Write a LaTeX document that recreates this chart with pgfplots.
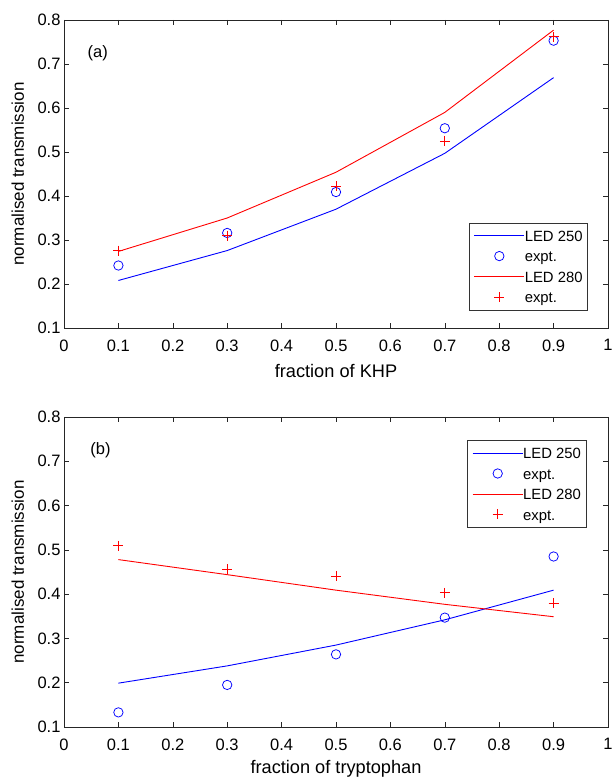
\documentclass[border=0pt]{standalone}
\usepackage{pgfplots}
\pgfplotsset{compat=1.18}
\usepackage{fontspec}
\setmainfont{Liberation Sans}
\definecolor{mblue}{RGB}{0,0,255}
\definecolor{mred}{RGB}{255,0,0}

\pgfplotsset{
 myaxis/.style={
  width=544pt, scale only axis,
  xmin=0, xmax=1, ymin=0.1, ymax=0.8,
  xtick={0,0.1,0.2,0.3,0.4,0.5,0.6,0.7,0.8,0.9,1},
  xticklabels={0,0.1,0.2,0.3,0.4,0.5,0.6,0.7,0.8,0.9,1},
  ytick={0.1,0.2,0.3,0.4,0.5,0.6,0.7,0.8},
  yticklabels={0.1,0.2,0.3,0.4,0.5,0.6,0.7,0.8},
  tick align=inside, major tick length=5pt,
  axis line style={black!85, line width=0.6pt},
  every tick/.style={black!85, line width=0.6pt},
  tick label style={font=\fontsize{16.5}{18}\selectfont},
  xlabel style={font=\fontsize{18.2}{20}\selectfont},
  ylabel style={font=\fontsize{17}{19}\selectfont, at={(axis description cs:-0.085,0.5)}, anchor=center},
  xticklabel style={yshift=-8pt},
  ylabel={normalised transmission},
  legend cell align=left,
  legend style={draw=black!80, line width=0.6pt, inner xsep=5pt, inner ysep=4.5pt,
    row sep=4pt, font=\fontsize{14.85}{16}\selectfont,
    nodes={inner sep=0pt, text height=14pt, text depth=2.5pt}},
  legend image code/.code={\draw[mark repeat=2,mark phase=2,##1] plot coordinates {(0pt,0pt)(25pt,0pt)(50pt,0pt)};},
 },
 lineb/.style={color=mblue, draw=mblue, line width=0.9pt, mark=none},
 liner/.style={color=mred, draw=mred, line width=0.9pt, mark=none},
 circb/.style={color=mblue, only marks, mark=o, mark size=4.7pt, mark options={draw=mblue, fill=none, line width=0.75pt}},
 plusr/.style={color=mred, only marks, mark=+, mark size=5pt, mark options={draw=mred, line width=0.75pt}},
}

\begin{document}
\begin{tikzpicture}
\begin{axis}[myaxis, at={(64pt,450pt)}, anchor=south west, height=308pt,
  xlabel={fraction of KHP},
  xlabel style={at={(axis description cs:0.5,-0.138)}, anchor=center},
  legend style={at={(0.963,0.058)}, anchor=south east}]
\addplot[lineb] coordinates {(0.1,0.208) (0.3,0.276) (0.5,0.370) (0.7,0.497) (0.9,0.669)};
\addlegendentry{LED 250}
\addplot[circb] coordinates {(0.1,0.242) (0.3,0.316) (0.5,0.409) (0.7,0.554) (0.9,0.753)};
\addlegendentry{expt.}
\addplot[liner] coordinates {(0.1,0.274) (0.3,0.350) (0.5,0.454) (0.7,0.590) (0.9,0.777)};
\addlegendentry{LED 280}
\addplot[plusr] coordinates {(0.1,0.276) (0.3,0.310) (0.5,0.422) (0.7,0.525) (0.9,0.762)};
\addlegendentry{expt.}
\node[font=\fontsize{16.5}{18}\selectfont] at (axis cs:0.062,0.725) {(a)};
\end{axis}

\begin{axis}[myaxis, at={(64pt,51pt)}, anchor=south west, height=310pt,
  xlabel={fraction of tryptophan},
  xlabel style={at={(axis description cs:0.5,-0.134)}, anchor=center},
  legend style={at={(0.96,0.926)}, anchor=north east}]
\addplot[lineb] coordinates {(0.1,0.199) (0.3,0.238) (0.5,0.285) (0.7,0.342) (0.9,0.409)};
\addlegendentry{LED 250}
\addplot[circb] coordinates {(0.1,0.133) (0.3,0.195) (0.5,0.264) (0.7,0.347) (0.9,0.485)};
\addlegendentry{expt.}
\addplot[liner] coordinates {(0.1,0.478) (0.3,0.444) (0.5,0.409) (0.7,0.377) (0.9,0.349)};
\addlegendentry{LED 280}
\addplot[plusr] coordinates {(0.1,0.509) (0.3,0.456) (0.5,0.441) (0.7,0.403) (0.9,0.380)};
\addlegendentry{expt.}
\node[font=\fontsize{16.5}{18}\selectfont] at (axis cs:0.067,0.725) {(b)};
\end{axis}
\pgfresetboundingbox
\useasboundingbox (0,0) rectangle (612pt,778pt);
\end{tikzpicture}
\end{document}
